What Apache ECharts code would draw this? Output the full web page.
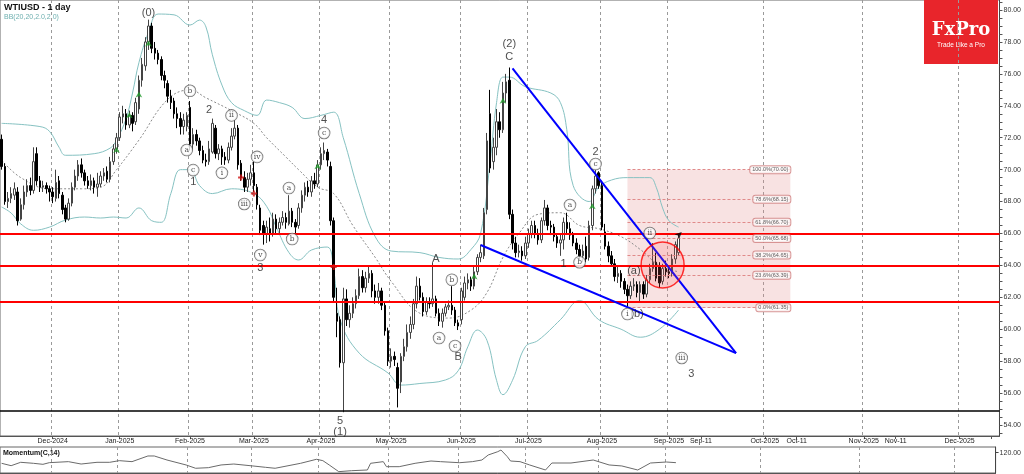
<!DOCTYPE html>
<html><head><meta charset="utf-8">
<script src="https://cdn.jsdelivr.net/npm/echarts@6/dist/echarts.min.js"></script>
<style>html,body{margin:0;padding:0;background:#fff}#c{width:1024px;height:474px}</style>
</head><body><div id="c"></div>
<script>
// ---------- categories ----------
const startDate = '2024-11-08', lastBarDate = '2025-09-04', axisEndDate = '2025-12-13';
const holidays = ['2024-12-25', '2025-01-01'];
const xTickDates  = ['2024-12-02','2025-01-02','2025-02-03','2025-03-03','2025-04-01','2025-05-01','2025-06-02','2025-07-01','2025-08-01','2025-09-01','2025-09-11','2025-10-01','2025-10-11','2025-11-01','2025-11-11','2025-12-01','2025-12-11'];
const xTickLabels = ['Dec-2024','Jan-2025','Feb-2025','Mar-2025','Apr-2025','May-2025','Jun-2025','Jul-2025','Aug-2025','Sep-2025','Sep-11','Oct-2025','Oct-11','Nov-2025','Nov-11','Dec-2025',''];
const monthGridDates = ['2024-12-02','2025-01-02','2025-02-03','2025-03-03','2025-04-01','2025-05-01','2025-06-02','2025-07-01','2025-08-01','2025-09-01','2025-10-01','2025-11-01','2025-12-01'];
const yTickValues = [54,56,58,60,62,64,66,68,70,72,74,76,78,80];

// ---------- OHLC ----------
const opens = [71.9,70.2,68.0,68.2,68.4,68.6,66.9,67.8,68.6,69.0,68.7,71.0,69.3,68.9,69.0,68.8,68.6,68.2,69.3,68.4,67.6,66.9,67.9,68.9,69.6,70.3,69.8,69.3,69.0,69.3,68.9,69.1,69.6,69.9,69.4,70.5,71.3,72.0,73.3,73.5,72.8,73.4,73.0,73.8,75.6,76.5,78.0,79.0,77.6,77.3,76.9,75.9,75.4,74.6,74.3,73.5,73.2,72.7,72.7,73.9,71.6,72.2,71.8,71.2,70.6,70.5,71.1,72.6,71.0,71.3,70.8,70.6,71.4,72.1,72.6,70.4,69.5,68.9,69.4,69.8,68.9,67.6,66.5,66.0,66.3,66.0,66.9,66.3,66.7,67.0,66.6,67.4,66.7,66.5,67.6,68.4,68.9,68.6,69.3,69.1,70.3,71.0,71.1,70.2,66.8,61.0,60.6,57.9,61.9,60.6,61.0,61.6,62.1,63.3,62.6,63.2,63.5,62.4,62.0,62.4,61.5,59.9,58.0,58.3,57.6,56.7,58.3,58.9,59.8,60.3,61.6,62.7,62.0,61.1,61.7,61.6,61.9,61.0,60.5,61.0,61.4,61.5,61.2,60.4,60.6,62.0,62.9,63.1,62.7,63.6,64.5,64.6,67.5,73.5,70.5,71.4,73.0,72.5,74.8,75.6,67.2,65.4,64.8,64.9,64.6,65.4,66.0,66.5,66.0,65.6,66.8,67.6,66.5,66.4,65.8,65.4,65.6,66.7,66.3,65.9,65.4,65.0,64.6,65.2,64.5,66.5,68.8,69.8,69.0,66.1,65.2,64.6,64.1,63.3,63.5,63.0,62.5,62.1,62.7,62.8,62.3,62.8,62.2,63.1,63.8,64.2,63.9,63.0,63.8,63.6,63.5,64.4,64.8];
const closes = [70.2,68.0,68.2,68.5,68.8,66.8,67.8,68.6,69.0,68.7,70.5,69.3,68.9,69.0,68.8,68.6,68.3,69.2,68.5,67.5,66.9,67.9,68.9,69.6,70.3,69.8,69.3,69.0,69.3,68.9,69.1,69.6,69.8,69.4,70.5,71.3,72.0,73.3,73.5,72.8,73.4,72.9,74.2,75.6,76.6,78.0,79.0,77.6,77.3,76.9,75.9,75.6,74.6,74.2,73.5,73.2,72.7,73.1,73.4,71.6,72.2,71.8,71.2,70.6,70.5,71.3,72.9,71.0,71.3,70.8,70.6,71.4,72.1,72.6,70.3,69.5,68.9,69.4,69.8,69.0,67.8,66.2,66.0,66.4,66.0,66.9,66.3,66.7,67.0,66.7,67.4,66.7,66.4,67.6,68.4,68.9,68.6,69.3,69.1,70.3,71.0,71.2,70.6,66.8,62.0,60.5,57.9,61.9,60.6,61.0,61.6,62.1,63.3,62.6,63.2,63.5,62.4,62.0,62.4,61.5,59.9,58.0,58.3,58.1,56.3,58.3,58.9,59.8,60.3,61.6,62.7,62.0,61.1,61.7,61.6,61.9,61.0,60.5,61.0,61.4,61.5,61.2,60.4,60.2,62.4,62.9,63.1,62.7,63.6,64.5,64.8,67.3,71.8,70.1,71.4,73.0,72.5,74.8,75.5,67.2,65.4,64.8,64.9,64.6,65.4,66.0,66.5,66.0,65.6,66.8,67.6,66.5,66.4,65.8,65.4,65.6,66.7,66.3,65.9,65.4,65.0,64.6,64.9,64.4,66.5,68.8,69.6,69.0,66.4,65.2,64.6,64.1,63.3,63.5,63.0,62.5,62.1,62.7,62.8,62.3,62.8,62.2,63.1,63.8,64.2,63.2,62.9,63.8,63.6,63.5,64.4,65.3,65.7];
const highs  = [72.2,70.4,68.6,68.9,69.2,68.9,68.2,69.0,69.4,69.5,71.4,71.4,69.6,69.3,69.2,69.0,68.9,70.0,69.6,68.6,67.8,68.2,69.2,70.0,70.6,70.7,70.0,69.6,69.7,69.5,69.8,69.9,70.1,70.2,70.8,71.6,72.3,73.6,74.0,73.8,73.7,73.6,74.5,75.9,77.0,78.3,79.4,79.2,78.0,77.5,77.1,76.2,75.6,75.0,74.5,73.9,73.6,73.5,73.6,74.3,72.6,72.5,72.0,71.5,71.0,71.8,73.2,72.8,71.6,71.5,71.1,71.7,72.6,73.1,72.8,70.6,69.9,69.8,70.3,70.5,69.1,67.8,66.8,66.8,67.0,67.3,67.2,67.0,67.4,67.3,68.4,67.6,66.9,67.9,68.7,69.2,69.3,69.6,69.8,70.6,71.4,71.7,71.3,70.5,67.0,62.6,60.8,62.6,62.5,61.5,62.0,62.5,63.8,63.7,63.6,63.9,63.7,62.8,62.9,62.6,61.7,60.1,58.8,58.6,57.9,58.5,59.4,60.3,60.8,61.9,63.3,63.2,62.3,62.0,62.0,64.2,62.1,61.3,61.3,61.6,61.8,62.7,61.4,60.6,62.6,63.3,63.5,63.3,63.9,64.7,65.3,67.6,72.3,75.0,72.0,73.8,73.6,75.5,76.0,76.4,67.5,65.8,65.3,65.2,65.8,66.3,66.8,66.8,66.3,67.0,68.1,67.8,66.8,66.6,66.0,66.0,67.0,67.3,66.7,66.1,65.7,65.3,65.3,65.8,66.8,69.0,70.0,69.9,69.3,66.6,65.5,64.9,64.4,63.9,63.7,63.2,62.8,63.0,63.2,63.0,63.0,63.0,63.4,64.1,65.4,64.8,64.2,64.1,64.3,63.9,64.7,65.5,66.0];
const lows   = [70.0,67.8,67.6,67.9,68.1,66.5,66.8,67.5,68.3,68.4,68.5,69.0,68.6,68.6,68.5,68.0,67.9,68.0,68.2,67.2,66.7,66.8,67.7,68.7,69.3,69.5,69.0,68.8,68.7,68.5,68.3,68.9,69.3,69.2,69.2,70.3,71.0,71.8,72.9,72.5,72.6,72.4,72.8,73.5,75.2,76.2,77.5,77.3,76.9,76.6,75.6,75.1,74.2,73.8,73.2,72.6,72.2,72.2,72.4,71.2,71.2,71.5,70.9,70.4,70.2,70.3,71.0,70.7,70.6,70.3,70.3,70.4,71.2,71.9,70.0,69.3,68.6,68.6,69.0,68.6,67.5,65.9,65.3,65.4,65.5,65.8,66.0,66.0,66.5,66.3,66.5,66.4,66.0,66.3,67.3,68.0,68.3,68.3,68.8,68.9,70.0,70.6,70.2,66.5,61.7,59.5,57.6,54.8,60.2,60.1,60.7,61.3,61.9,62.3,62.3,62.9,62.0,61.6,61.6,61.2,59.6,57.7,57.6,57.7,55.1,56.0,58.0,58.6,59.4,60.0,61.3,61.8,60.8,60.9,61.3,61.4,60.8,60.2,60.1,60.8,61.2,60.9,60.2,59.95,60.3,61.8,62.5,62.4,62.5,63.4,64.2,64.4,67.2,69.8,70.0,70.9,72.0,72.3,74.2,66.9,65.0,64.5,64.5,64.3,64.4,65.1,65.7,65.7,65.3,65.4,66.5,66.2,65.9,65.5,65.1,64.6,65.0,66.0,65.6,65.2,64.7,64.3,64.2,64.2,64.3,66.2,68.5,68.8,66.2,65.0,64.2,63.9,63.0,62.9,62.6,62.2,61.4,61.9,62.4,62.0,61.7,61.9,62.0,62.9,63.6,63.0,62.6,62.8,63.3,63.2,63.3,64.1,64.6];

// ---------- Bollinger Bands (20, 2): [barIndex, value] ----------
const bbUpper = [[0,72.9],[12,72.7],[15,72.4],[18,71.4],[20,70.9],[29,71.0],[34,71.35],[36,71.85],[39,73.2],[41,74.8],[43,76.7],[46,78.6],[49,79.75],[54,79.7],[59,79.06],[62,79.37],[64,78.94],[66,77.2],[69,75.3],[72,74.2],[76,73.7],[80,73.4],[83,74.36],[87,74.2],[91,73.9],[95,73.2],[100,73.4],[104,73.6],[107,72.0],[112,68.5],[117,65.8],[122,64.9],[131,64.8],[137,64.5],[143,64.4],[147,65.0],[150,66.0],[153,70.5],[155,74.2],[157,75.8],[159,75.8],[164,75.2],[172,74.8],[175,74.2],[177,72.5],[179,69.0],[184,68.0],[187,68.9],[191,69.35],[196,69.5],[203,69.5],[205,68.9],[207,67.6],[209,66.8],[212,66.4]];
const bbMiddle = [[0,70.6],[6,69.5],[15,68.8],[25,68.8],[31,68.9],[36,70.0],[43,71.85],[52,74.4],[59,75.0],[64,74.5],[72,73.7],[79,72.9],[83,72.0],[89,70.8],[93,70.0],[99,68.9],[104,68.5],[110,66.5],[117,64.5],[122,63.0],[131,61.0],[140,60.7],[147,61.2],[152,62.3],[157,64.5],[162,66.0],[168,67.2],[175,67.3],[181,66.5],[187,66.3],[194,65.8],[200,65.0],[206,64.0],[212,63.6]];
const bbLower = [[0,67.66],[3,67.28],[6,66.6],[10,66.2],[15,66.4],[20,66.84],[26,67.03],[31,66.97],[35,67.03],[39,66.97],[43,67.6],[47,66.8],[50,66.7],[53,68.5],[56,70.0],[59,70.0],[62,69.0],[66,68.5],[72,68.8],[79,68.5],[83,67.7],[86,66.4],[90,64.8],[93,64.34],[97,64.96],[102,65.15],[104,63.7],[106,60.6],[112,58.5],[121,57.26],[125,56.5],[131,56.6],[139,56.82],[143,57.4],[146,58.9],[149,59.95],[152,59.3],[155,56.8],[157,55.9],[160,56.8],[164,58.9],[168,59.3],[175,60.6],[181,61.8],[187,60.6],[194,60.0],[200,59.5],[206,60.0],[212,61.2]];

// ---------- Momentum(C,14): [barIndex, value] ----------
const momentum = [[0,102.0],[3,98.0],[6,103.7],[10,102.0],[13,100.3],[15,103.1],[21,104.8],[25,100.8],[30,103.7],[34,103.7],[37,106.5],[41,104.8],[46,114.4],[48,114.4],[52,107.6],[58,99.2],[61,93.6],[65,94.6],[69,99.2],[73,100.8],[79,97.5],[83,95.2],[86,93.6],[94,102.0],[99,108.8],[101,106.5],[103,99.2],[106,87.9],[110,89.5],[115,90.7],[116,102.0],[120,104.8],[121,96.3],[125,96.3],[130,102.0],[135,105.9],[138,104.8],[144,103.0],[148,104.8],[151,107.6],[153,116.1],[156,121.7],[157,124.5],[159,113.2],[160,105.9],[163,104.8],[166,99.2],[171,90.7],[173,102.5],[179,102.5],[186,107.6],[191,99.2],[195,97.5],[200,90.7],[204,102.5],[209,104.2],[212,103.09]];

// ---------- annotations ----------
const redLevels = [66.0, 64.0, 61.7];
const blackLevel = 54.87;
const trendUpper = [[160, 76.35], [230, 58.5]];
const trendLower = [[150, 65.28], [230, 58.5]];
const circleCenter = [[207, 64.03]];
const fibStartIdx = 196, fibEndIdx = 247;
const fibLevels = [70.00, 68.15, 66.70, 65.68, 64.65, 63.39, 61.35];
const fibNames  = ['100.0%(70.00)','78.6%(68.15)','61.8%(66.70)','50.0%(65.68)','38.2%(64.65)','23.6%(63.39)','0.0%(61.35)'];
const plainLabels = [[46,79.8,'(0)'],[65,73.73,'2'],[60,69.2,'1'],[101,73.1,'4'],[81,63.85,'3'],[136,64.4,'A'],[143,58.26,'B'],[106,54.25,'5'],[106,53.56,'(1)'],[159,77.87,'(2)'],[159,77.05,'C'],[186,71.1,'2'],[176,64.1,'1'],[198,63.65,'(a)'],[199,60.95,'(b)'],[216,57.2,'3']];
const circledLabels = [[59,74.94,'b'],[72,73.4,'ii'],[58,71.23,'a'],[60,69.97,'c'],[69,69.8,'i'],[80,70.8,'iv'],[76,67.85,'iii'],[101,72.3,'c'],[90,68.85,'a'],[91,65.65,'b'],[81,64.65,'v'],[141,63.1,'b'],[137,59.45,'a'],[142,58.95,'c'],[186,70.35,'c'],[178,67.78,'a'],[181,64.2,'b'],[203,66.03,'ii'],[196,60.95,'i'],[213,58.2,'iii']];
const greenArrows = [[36,71.42],[40,73.6],[43,74.9],[46,78.1],[99,70.4],[148,63.5],[157,74.5],[185,67.9]];
const redMarks = [[75,69.5],[79,68.5],[104,63.9]];
const lastArrow = [[213,66.1]];
const priceTags = [{v:65.35, bg:'#ffffff', fg:'#333'}, {v:62.93, bg:'#8e98e0', fg:'#ffffff'}];
const momTag = 103.09;

// ---------- build ----------
const dates = [];
(function(){
  const fmt = d => d.toISOString().slice(0,10);
  let d = new Date(startDate+'T00:00:00Z');
  const last = new Date(lastBarDate+'T00:00:00Z'), end = new Date(axisEndDate+'T00:00:00Z');
  while (d <= last) { const wd=d.getUTCDay(), s=fmt(d); if (wd!==0 && wd!==6 && holidays.indexOf(s)<0) dates.push(s); d.setUTCDate(d.getUTCDate()+1); }
  while (d <= end) { dates.push(fmt(d)); d.setUTCDate(d.getUTCDate()+1); }
})();
const labelMap = {}; xTickDates.forEach((d,i)=>labelMap[d]=xTickLabels[i]);
const tickSet = new Set(xTickDates.map(d=>dates.indexOf(d)));
const gridSet = new Set(monthGridDates.map(d=>dates.indexOf(d)));
const ohlc = opens.map((o,i)=>[o, closes[i], lows[i], highs[i]]);
const minorTicks = []; for (let v=53.5; v<=80.5; v+=0.5) minorTicks.push(v);

const FONT = 'Liberation Sans';
const xAxisCommon = {
  type:'category', data: dates, boundaryGap:true,
  axisLine:{show:true, lineStyle:{color:'#555', width:1}},
  splitLine:{show:true, interval:(i)=>gridSet.has(i), lineStyle:{color:'#9a9a9a', type:[3,3], width:1}}
};
const option = {
  animation:false,
  backgroundColor:'#fff',
  grid:[
    {left:0, right:24, top:0, height:436, show:true, borderColor:'#666', borderWidth:1, containLabel:false},
    {left:0, right:24, top:447, height:26, show:true, borderColor:'#666', borderWidth:1, containLabel:false}
  ],
  xAxis:[
    Object.assign({}, xAxisCommon, {gridIndex:0,
      axisTick:{show:true, interval:(i)=>tickSet.has(i), alignWithLabel:true, length:3, lineStyle:{color:'#555'}},
      axisLabel:{show:true, interval:(i)=>tickSet.has(i), formatter:(v)=>labelMap[v]||'', fontSize:7, color:'#222', margin:2, fontFamily:FONT}}),
    Object.assign({}, xAxisCommon, {gridIndex:1, axisTick:{show:false}, axisLabel:{show:false}})
  ],
  yAxis:[
    {type:'value', gridIndex:0, position:'right', min:53.31, max:80.63,
     splitLine:{show:false}, axisLine:{show:true, lineStyle:{color:'#444'}},
     axisTick:{show:true, customValues:minorTicks, length:3, lineStyle:{color:'#555'}},
     axisLabel:{customValues:yTickValues, formatter:(v)=>v.toFixed(2), fontSize:7, color:'#333', margin:4, fontFamily:FONT}},
    {type:'value', gridIndex:1, position:'right', min:85.6, max:129.6,
     splitLine:{show:false}, axisLine:{show:true, lineStyle:{color:'#444'}},
     axisTick:{show:true, customValues:[120], length:3},
     axisLabel:{customValues:[120], formatter:(v)=>v.toFixed(2), fontSize:7, color:'#333', margin:4, fontFamily:FONT}}
  ],
  series:[
    {type:'line', xAxisIndex:0, yAxisIndex:0, data:[], silent:true, z:1,
     markArea:{silent:true, itemStyle:{color:'rgba(228,140,140,0.25)'}, data:[[{coord:[fibStartIdx, fibLevels[0]]},{coord:[fibEndIdx, fibLevels[fibLevels.length-1]]}]]},
     markLine:{silent:true, symbol:'none', label:{show:false}, lineStyle:{color:'#e08a8a', type:[3,2], width:1},
       data: fibLevels.map(v=>[{coord:[fibStartIdx,v]},{coord:[fibEndIdx,v]}])}},
    {type:'line', name:'bbU', data:bbUpper, smooth:0.4, symbol:'none', lineStyle:{color:'#86c2c2', width:1}, z:2},
    {type:'line', name:'bbL', data:bbLower, smooth:0.4, symbol:'none', lineStyle:{color:'#86c2c2', width:1}, z:2},
    {type:'line', name:'bbM', data:bbMiddle, smooth:0.4, symbol:'none', lineStyle:{color:'#8a8a8a', width:1, type:[2,2]}, z:2},
    {type:'candlestick', data:ohlc, barWidth:2, z:3,
     itemStyle:{color:'#ffffff', color0:'#000000', borderColor:'#444444', borderColor0:'#000000', borderWidth:1}},
    {type:'line', data:[], z:4, markLine:{silent:true, symbol:'none', label:{show:false},
      data:[...redLevels.map(v=>({yAxis:v, lineStyle:{color:'#ff0000', width:2, type:'solid'}})), {yAxis:blackLevel, lineStyle:{color:'#000', width:1.5, type:'solid'}}]}},
    {type:'line', data:[], z:6, markLine:{silent:true, symbol:'none', lineStyle:{opacity:0},
      data: priceTags.map(t=>({yAxis:t.v, label:{show:true, position:'end', distance:3, formatter:t.v.toFixed(2), fontSize:7, fontFamily:FONT, color:t.fg, backgroundColor:t.bg, borderColor:'#777', borderWidth:1, padding:[1,2,0,2]}}))}},
    {type:'line', data:trendUpper, symbol:'none', lineStyle:{color:'#0000ff', width:2}, z:5},
    {type:'line', data:trendLower, symbol:'none', lineStyle:{color:'#0000ff', width:2}, z:5},
    {type:'scatter', data:circleCenter, symbol:'circle', symbolSize:[43,46], z:5,
     itemStyle:{color:'rgba(255,90,90,0.22)', borderColor:'#ff0000', borderWidth:1.5}},
    {type:'scatter', data:fibLevels.map((v,i)=>[fibEndIdx, v, fibNames[i]]), symbolSize:0, z:6,
     label:{show:true, position:'left', distance:0, formatter:(p)=>p.data[2], fontSize:5.5, fontFamily:FONT, color:'#333',
       backgroundColor:'#fff', borderColor:'#d08080', borderWidth:1, borderRadius:2, padding:[1,2,0,2]}},
    {type:'scatter', data:plainLabels, symbolSize:0, z:7,
     label:{show:true, position:'inside', formatter:(p)=>p.data[2], fontSize:11, fontFamily:FONT, color:'#222'}},
    {type:'scatter', data:circledLabels, symbolSize:0, z:7,
     label:{show:true, position:'inside', formatter:(p)=>p.data[2], fontSize:7.5, fontFamily:'DejaVu Serif', color:'#222',
       backgroundColor:'#fff', borderColor:'#555', borderWidth:0.8, borderRadius:6, width:11, height:11, lineHeight:11, align:'center', padding:0}},
    {type:'scatter', data:greenArrows, symbol:'arrow', symbolSize:[5,6], z:6, itemStyle:{color:'#1f9a2a'}},
    {type:'scatter', data:redMarks, symbol:'path://M2,0h2v2h2v2h-2v2h-2v-2h-2v-2h2z', symbolSize:[6,6], z:6, itemStyle:{color:'#d01010'}},
    {type:'scatter', data:lastArrow, symbol:'arrow', symbolSize:[5,7], symbolRotate:-45, z:6, itemStyle:{color:'#000'}},
    {type:'line', xAxisIndex:1, yAxisIndex:1, data:momentum, symbol:'none', lineStyle:{color:'#6a6a6a', width:1}, z:3,
     markLine:{silent:true, symbol:'none', lineStyle:{opacity:0},
       data:[{yAxis:momTag, label:{show:true, position:'end', distance:3, formatter:momTag.toFixed(2), fontSize:7, fontFamily:FONT, color:'#333', backgroundColor:'#fff', borderColor:'#777', borderWidth:1, padding:[1,2,0,2]}}]}}
  ],
  graphic:[
    {type:'text', left:4, top:3, style:{text:'WTIUSD - 1 day', font:'bold 9px "Liberation Sans"', fill:'#111'}},
    {type:'text', left:4, top:14, style:{text:'BB(20,20,2.0,2.0)', font:'7px "Liberation Sans"', fill:'#6fb0b0'}},
    {type:'text', left:3, top:450, style:{text:'Momentum(C,14)', font:'bold 7px "Liberation Sans"', fill:'#111'}},
    {type:'group', left:924, top:0, children:[
      {type:'rect', shape:{x:0, y:0, width:74, height:64}, style:{fill:'#e8252b'}},
      {type:'text', x:37, y:30, style:{text:'FxPro', font:'bold 18px "DejaVu Serif"', fill:'#fff', align:'center', verticalAlign:'middle'}},
      {type:'text', x:37, y:45, style:{text:'Trade Like a Pro', font:'6.5px "Liberation Sans"', fill:'#fff', align:'center', verticalAlign:'middle'}}
    ]}
  ]
};
const chart = echarts.init(document.getElementById('c'), null, {renderer:'canvas'});
chart.setOption(option);
</script></body></html>
